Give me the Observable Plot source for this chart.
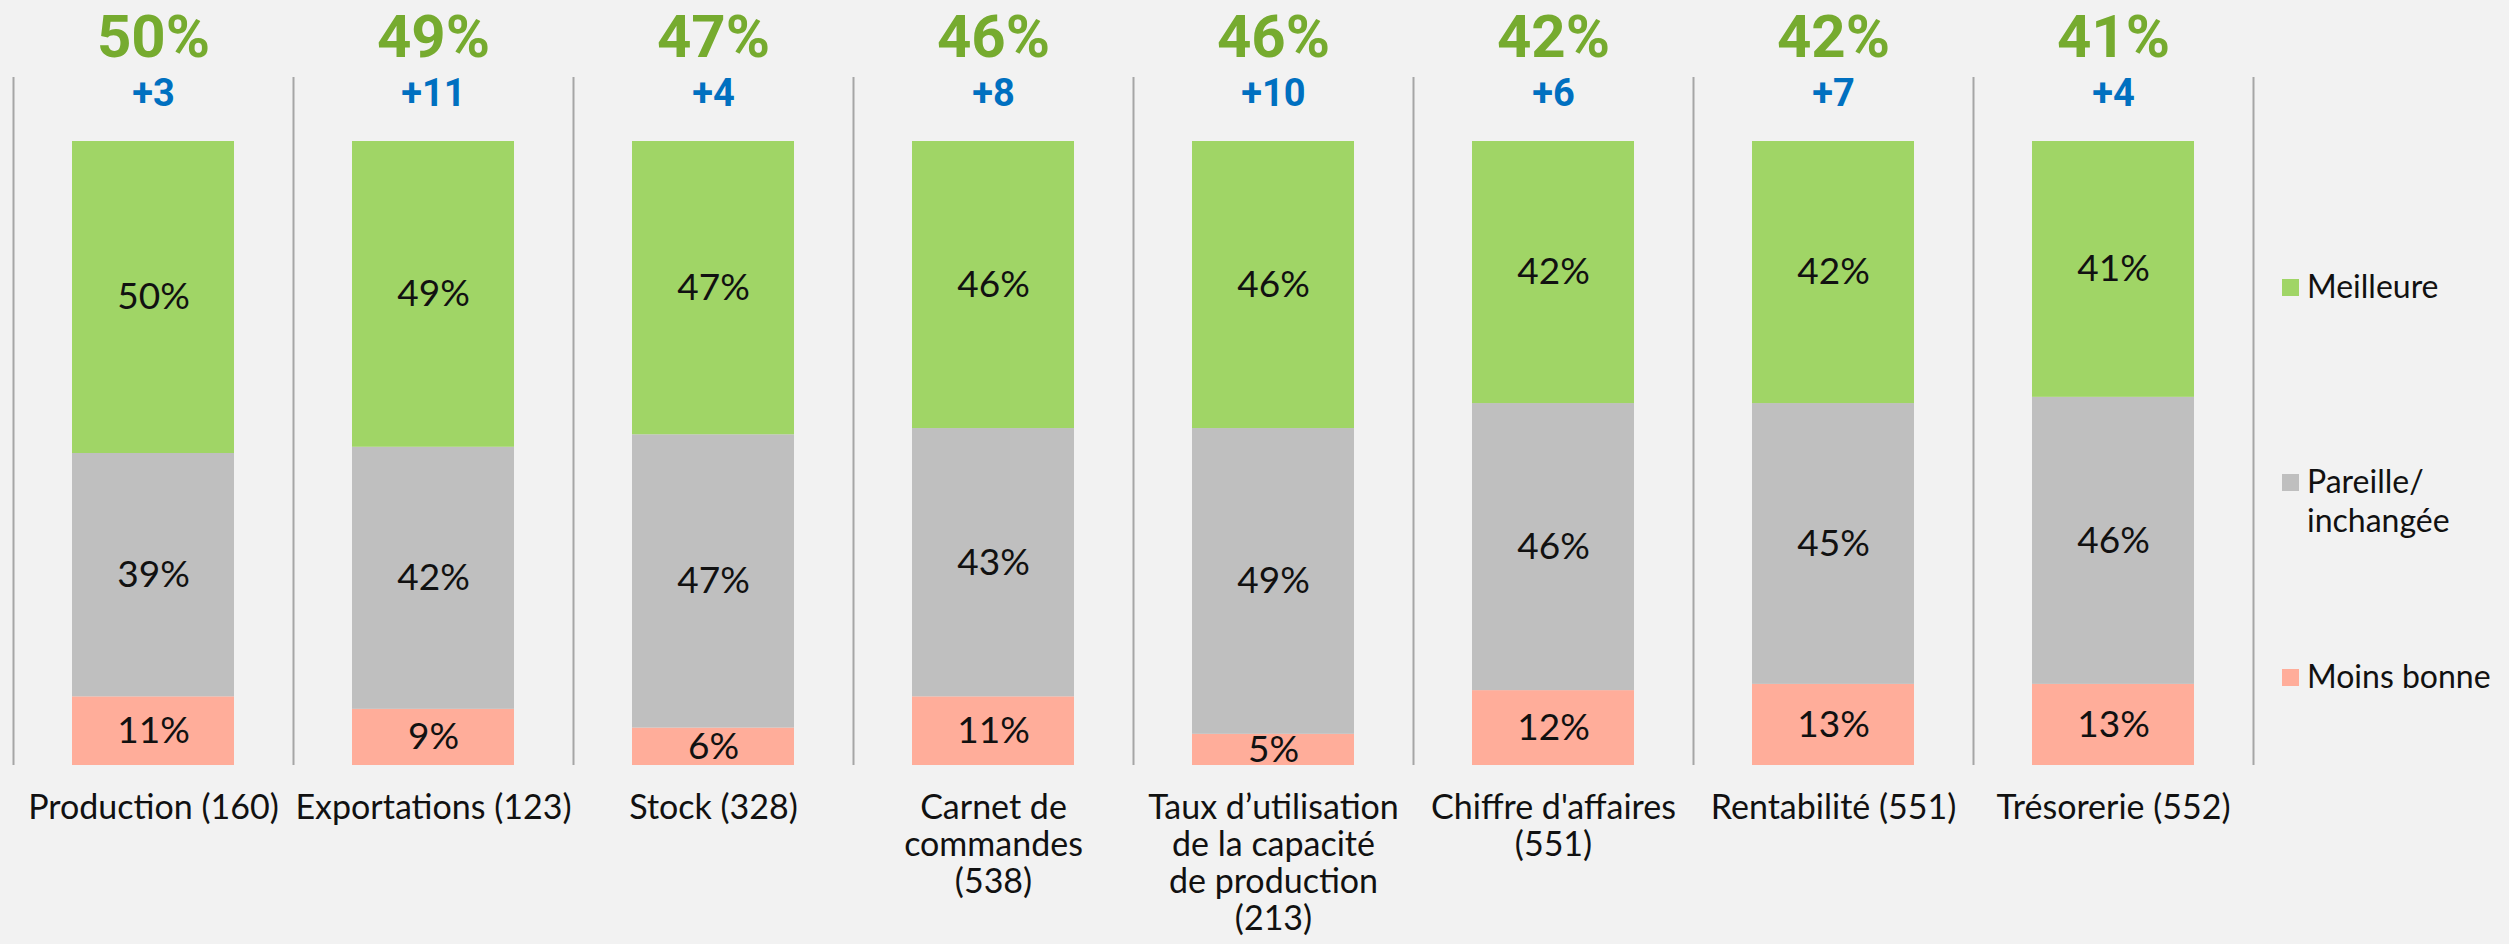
<!DOCTYPE html>
<html>
<head>
<meta charset="utf-8">
<script src="https://cdn.jsdelivr.net/npm/d3@7"></script>
<script src="https://cdn.jsdelivr.net/npm/@observablehq/plot@0.6"></script>
<style>
  html, body { margin: 0; padding: 0; background: #F2F2F2; }
  #wrap { position: relative; width: 2509px; height: 944px; overflow: hidden; background: #F2F2F2; }
  #legend { position: absolute; left: 0; top: 0; font-family: Lato, "Noto Sans", sans-serif; font-size: 32px; line-height: 39px; color: #111; }
  .item { position: absolute; left: 2282px; }
  .sw { position: absolute; left: 0; width: 17px; height: 17px; }
  .lb { position: absolute; left: 25px; white-space: nowrap; }
</style>
</head>
<body>
<div id="wrap"><div id="chart"></div><div id="legend"></div></div>
<script>
const categories = ["Production", "Exportations", "Stock", "Carnet", "Taux", "Chiffre", "Rentabilité", "Trésorerie"];
const tickLabels = [
  "Production (160)",
  "Exportations (123)",
  "Stock (328)",
  "Carnet de\ncommandes\n(538)",
  "Taux d’utilisation\nde la capacité\nde production\n(213)",
  "Chiffre d'affaires\n(551)",
  "Rentabilité (551)",
  "Trésorerie (552)"
];
const meilleure = [50, 49, 47, 46, 46, 42, 42, 41];
const pareille  = [39, 42, 47, 43, 49, 46, 45, 46];
const moins     = [11, 9, 6, 11, 5, 12, 13, 13];
const deltas    = ["+3", "+11", "+4", "+8", "+10", "+6", "+7", "+4"];
const seriesNames = ["Moins bonne", "Pareille/ inchangée", "Meilleure"];
const seriesColors = ["#FFAD9A", "#BFBFBF", "#A0D566"];
const legendOrder = ["Meilleure", "Pareille/ inchangée", "Moins bonne"];
const legendText = {"Meilleure": "Meilleure", "Pareille/ inchangée": "Pareille/<br>inchangée", "Moins bonne": "Moins bonne"};

const seriesValues = [moins, pareille, meilleure];
const rows = [];
categories.forEach((c, i) => {
  seriesNames.forEach((s, j) => rows.push({cat: c, series: s, value: seriesValues[j][i]}));
});
const summary = categories.map((c, i) => ({cat: c, top: meilleure[i] + "%", delta: deltas[i], label: tickLabels[i]}));

const W = 2509, H = 944;
const mL = 13, mR = 256, mT = 141, mB = 179;
const step = (W - mL - mR) / categories.length;
const boldFont = "'Liberation Sans Narrow', Roboto, 'Liberation Sans', sans-serif";

const chart = Plot.plot({
  width: W,
  height: H,
  marginLeft: mL,
  marginRight: mR,
  marginTop: mT,
  marginBottom: mB,
  style: {background: "#F2F2F2", fontFamily: "Lato, 'Noto Sans', sans-serif"},
  x: {domain: categories, paddingInner: 0.42, paddingOuter: 0.21, axis: null},
  y: {domain: [0, 100], axis: null},
  color: {domain: seriesNames, range: seriesColors},
  marks: [
    Plot.ruleX(summary, {x: "cat", dx: -step / 2, insetTop: -64, stroke: "#A6A6A6", strokeWidth: 2}),
    Plot.ruleX(summary.slice(-1), {x: "cat", dx: step / 2, insetTop: -64, stroke: "#A6A6A6", strokeWidth: 2}),
    Plot.barY(rows, {x: "cat", y: "value", fill: "series"}),
    Plot.text(rows, Plot.stackY({x: "cat", y: "value", text: d => d.value + "%", fontSize: 37, fill: "#111", fontFamily: "Lato"})),
    Plot.text(summary, {x: "cat", text: "top", frameAnchor: "top", lineAnchor: "middle", dy: -104, fontSize: 60, fontWeight: "bold", fill: "#76AB2F", fontFamily: boldFont}),
    Plot.text(summary, {x: "cat", text: "delta", frameAnchor: "top", lineAnchor: "middle", dy: -48, fontSize: 38, fontWeight: "bold", fill: "#0070C0", fontFamily: boldFont}),
    Plot.text(summary, {x: "cat", text: "label", frameAnchor: "bottom", lineAnchor: "top", dy: 27, fontSize: 34, lineHeight: 1.09, fill: "#111", fontFamily: "Lato"})
  ]
});
document.getElementById("chart").appendChild(chart);

const legendTops = {"Meilleure": 266, "Pareille/ inchangée": 461, "Moins bonne": 656};
const leg = document.getElementById("legend");
legendOrder.forEach(name => {
  const j = seriesNames.indexOf(name);
  const it = document.createElement("div");
  it.className = "item";
  it.style.top = legendTops[name] + "px";
  it.innerHTML = `<div class="sw" style="top:13px;background:${seriesColors[j]}"></div><div class="lb">${legendText[name]}</div>`;
  leg.appendChild(it);
});
</script>
</body>
</html>
